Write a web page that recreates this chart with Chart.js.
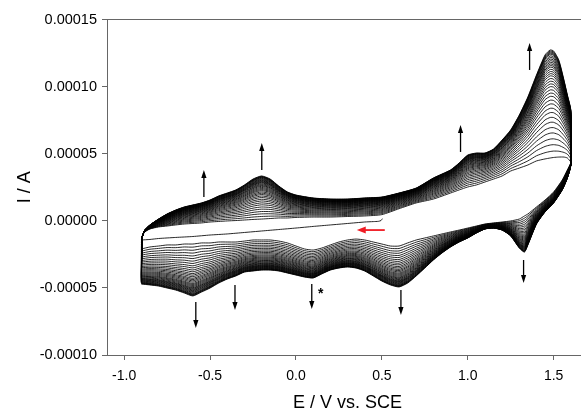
<!DOCTYPE html>
<html><head><meta charset="utf-8">
<script src="https://cdn.jsdelivr.net/npm/chart.js@4"></script>
<style>html,body{margin:0;padding:0;overflow:hidden;background:#fff}#wrap{position:relative;width:588px;height:414px}</style>
</head><body><div id="wrap"><canvas id="c" width="588" height="414"></canvas></div>
<script>
// ---- tick labels ----
const xTicks = [-1.0, -0.5, 0.0, 0.5, 1.0, 1.5];
const yTicks = [-0.0001, -0.00005, 0, 0.00005, 0.0001, 0.00015];

// ---- anodic sweep (-0.9 -> 1.6 V), currents in µA ----
const anodicE = [-0.9,-0.895,-0.88,-0.85,-0.8,-0.75,-0.7,-0.65,-0.6,-0.55,-0.5,-0.45,-0.4,-0.35,-0.3,-0.25,-0.2,-0.15,-0.1,-0.05,0,0.1,0.2,0.3,0.4,0.5,0.6,0.7,0.8,0.9,0.95,1.0,1.05,1.1,1.15,1.2,1.25,1.3,1.35,1.4,1.45,1.48,1.5,1.53,1.56,1.58,1.6];
const anodicFirst_uA = [-14.3,-11.3,-8.3,-6.1,-4.6,-3.9,-3.1,-2.4,-2.0,-1.6,-0.9,-0.5,-0.1,0.2,0.6,1.0,1.3,1.7,2.1,2.1,2.5,2.8,2.8,3.2,3.6,4.6,9.0,13.3,16.2,20.7,23.0,25.2,26.7,28.9,31.1,33.4,37.1,39.3,41.6,44.6,46.1,46.8,47.2,47.5,47.5,46.8,43.8];
const anodicLast_uA = [-46.4,-12.8,-6.9,-3.1,1.3,5.1,8.0,10.3,11.8,13.3,15.5,18.5,20.7,23.0,26.7,31.1,33.4,31.1,25.9,21.5,19.2,17.0,16.2,16.2,17.0,17.7,20.7,24.4,31.9,37.9,43.1,49.0,50.5,50.5,53.5,60.2,67.7,78.8,92.3,108.6,123.6,127.3,126.5,119.8,104.9,93.7,82.6];

// ---- cathodic sweep (1.6 -> -0.9 V), currents in µA ----
const cathodicE = [1.6,1.58,1.55,1.5,1.45,1.4,1.35,1.33,1.3,1.25,1.2,1.15,1.1,1.05,1.0,0.95,0.9,0.85,0.8,0.75,0.7,0.65,0.6,0.55,0.5,0.45,0.4,0.35,0.3,0.25,0.2,0.15,0.1,0.05,0,-0.05,-0.1,-0.15,-0.2,-0.25,-0.3,-0.35,-0.4,-0.45,-0.5,-0.55,-0.6,-0.65,-0.7,-0.75,-0.8,-0.85,-0.9];
const cathodicFirst_uA = [43.1,37.9,30.4,21.5,15.5,10.3,5.1,3.6,1.3,-0.1,-0.9,-1.6,-2.4,-3.9,-5.4,-6.9,-8.3,-9.8,-11.3,-12.8,-14.3,-16.5,-18.8,-18.8,-17.3,-15.8,-14.3,-13.6,-14.3,-15.8,-18.0,-20.3,-21.8,-21.0,-18.8,-16.5,-15.1,-14.3,-14.3,-14.3,-15.1,-15.8,-15.8,-15.8,-16.5,-16.5,-17.3,-17.3,-18.0,-18.0,-18.8,-19.5,-21.0];
const cathodicLast_uA = [41.6,31.9,23.0,13.3,6.6,-2.4,-18.0,-23.3,-20.3,-11.3,-6.9,-5.4,-6.1,-9.1,-12.8,-15.8,-19.5,-24.0,-29.2,-35.2,-41.1,-46.4,-49.3,-47.8,-44.9,-41.1,-37.4,-35.2,-34.4,-35.2,-36.7,-39.6,-42.6,-41.9,-40.4,-38.9,-37.4,-36.7,-36.7,-37.4,-38.2,-41.1,-43.4,-46.4,-50.1,-53.1,-56.0,-53.8,-51.6,-50.1,-48.6,-47.8,-47.1];

// ---- initial sweep from 0.5 V towards -0.9 V (µA) ----
const initialE = [0.503,0.495,0.48,0.45,0.4,0.3,0.2,0.1,0,-0.1,-0.2,-0.3,-0.4,-0.5,-0.6,-0.7,-0.8,-0.85,-0.9];
const initial_uA = [1.6,0.2,-0.4,-0.6,-0.9,-2.0,-3.1,-4.2,-5.4,-6.5,-7.6,-8.7,-9.8,-10.6,-11.7,-12.4,-13.2,-13.9,-14.3];

// ---- growth of each cycle between first and last trace (read from ring spacing) ----
const cycleGrowth = [0,0.06,0.12,0.175,0.23,0.28,0.33,0.375,0.42,0.46,0.5,0.535,0.57,0.6,0.63,0.66,0.685,0.71,0.735,0.76,0.78,0.8,0.82,0.84,0.855,0.87,0.885,0.9,0.915,0.93,0.945,0.96,0.97,0.98,0.99,1.0];

// ---- annotation arrows (E in V, current in µA) ----
const arrowE       = [-0.536,-0.199,0.958,1.360,-0.583,-0.355,0.092,0.611,1.325];
const arrowTail_uA = [17.7,37.9,51.3,112.4,-60.5,-47.8,-47.1,-51.6,-29.2];
const arrowHead_uA = [37.9,58.0,71.4,132.5,-79.9,-66.5,-65.7,-70.2,-46.4];
const redArrowE = [0.517, 0.354];
const redArrow_uA = [-6.9, -6.9];
const starE = 0.144, star_uA = -52.3;

const uA = 1e-6;
function trace(E, a, b, f){ return E.map((e,i)=>({x:e, y:(a[i]+f*(b[i]-a[i]))*uA})); }
const lineStyle = {borderColor:'#000', borderWidth:0.85, pointRadius:0, showLine:true, tension:0.2, fill:false};
const datasets = cycleGrowth.map(f => Object.assign({
  data: trace(anodicE, anodicFirst_uA, anodicLast_uA, f).concat(trace(cathodicE, cathodicFirst_uA, cathodicLast_uA, f))
}, lineStyle));
datasets.push(Object.assign({data: initialE.map((e,i)=>({x:e, y:initial_uA[i]*uA}))}, lineStyle));

function drawArrow(ctx, x1, y1, x2, y2, color, lw, hl, hw){
  const ang = Math.atan2(y2-y1, x2-x1);
  ctx.strokeStyle = color; ctx.fillStyle = color; ctx.lineWidth = lw;
  ctx.beginPath(); ctx.moveTo(x1,y1);
  ctx.lineTo(x2 - Math.cos(ang)*hl*0.8, y2 - Math.sin(ang)*hl*0.8); ctx.stroke();
  ctx.beginPath(); ctx.moveTo(x2,y2);
  ctx.lineTo(x2 - Math.cos(ang)*hl - Math.sin(ang)*hw, y2 - Math.sin(ang)*hl + Math.cos(ang)*hw);
  ctx.lineTo(x2 - Math.cos(ang)*hl + Math.sin(ang)*hw, y2 - Math.sin(ang)*hl - Math.cos(ang)*hw);
  ctx.closePath(); ctx.fill();
}
const annot = {
  id:'annot',
  afterDatasetsDraw(chart){
    const {ctx, scales:{x, y}} = chart;
    ctx.save();
    arrowE.forEach((e,i)=>{
      const px = x.getPixelForValue(e);
      drawArrow(ctx, px, y.getPixelForValue(arrowTail_uA[i]*uA), px, y.getPixelForValue(arrowHead_uA[i]*uA), '#000', 1.3, 8, 2.6);
    });
    drawArrow(ctx, x.getPixelForValue(redArrowE[0]), y.getPixelForValue(redArrow_uA[0]*uA),
                   x.getPixelForValue(redArrowE[1]), y.getPixelForValue(redArrow_uA[1]*uA), '#f01c24', 1.8, 9, 3.5);
    ctx.fillStyle = '#000'; ctx.font = 'bold 14px "Liberation Sans", Arial, sans-serif';
    ctx.textAlign = 'center'; ctx.textBaseline = 'middle';
    ctx.fillText('*', x.getPixelForValue(starE), y.getPixelForValue(star_uA*uA) + 3);
    ctx.restore();
  }
};

const fam = '"Liberation Sans", Arial, sans-serif';
new Chart(document.getElementById('c'), {
  type: 'scatter',
  data: {datasets},
  plugins: [annot],
  options: {
    responsive:false, animation:false, devicePixelRatio:1,
    layout:{padding:0},
    plugins:{legend:{display:false}, tooltip:{enabled:false}},
    scales:{
      x:{type:'linear', position:'bottom', min:-1.1, max:1.7,
        afterBuildTicks:s=>{ s.ticks = xTicks.map(v=>({value:v})); },
        afterFit:s=>{ s.height = 59; },
        ticks:{callback:v=>Number(v).toFixed(1), color:'#000', font:{family:fam, size:14}, padding:8, maxRotation:0, autoSkip:false},
        grid:{drawOnChartArea:false, drawTicks:true, tickLength:5, color:'#666', lineWidth:1},
        border:{display:true, color:'#666', width:1},
        title:{display:true, text:'E / V vs. SCE', color:'#000', font:{family:fam, size:18}, padding:{top:0, bottom:0}}
      },
      x2:{type:'linear', position:'top', min:-1.1, max:1.7,
        ticks:{display:false}, grid:{display:false},
        border:{display:true, color:'#666', width:1},
        afterFit:s=>{ s.height = 19.5; }
      },
      y:{type:'linear', position:'left', min:-0.0001, max:0.00015,
        afterBuildTicks:s=>{ s.ticks = yTicks.map(v=>({value:v})); },
        afterFit:s=>{ s.width = 107; },
        ticks:{callback:v=>(Math.abs(v)<1e-12?0:Number(v)).toFixed(5), color:'#000', font:{family:fam, size:14.5}, padding:5, autoSkip:false},
        grid:{drawOnChartArea:false, drawTicks:true, tickLength:5, color:'#666', lineWidth:1},
        border:{display:true, color:'#666', width:1},
        title:{display:true, text:'I / A', color:'#000', font:{family:fam, size:18}, padding:{top:14, bottom:0}}
      }
    }
  }
});
</script></body></html>
